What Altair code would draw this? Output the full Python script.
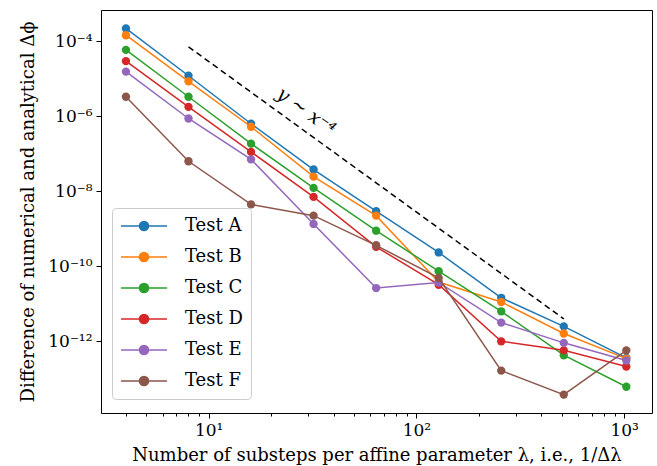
import altair as alt
import pandas as pd

# ---- data ----
x_vals = [4, 8, 16, 32, 64, 128, 256, 512, 1024]
tests = ["Test A", "Test B", "Test C", "Test D", "Test E", "Test F"]
colors = ["#1f77b4", "#ff7f0e", "#2ca02c", "#d62728", "#9467bd", "#8c564b"]

# log10 of the difference, per test
logy_A = [-3.66, -4.92, -6.20, -7.42, -8.53, -9.63, -10.84, -11.60, -12.44]
logy_B = [-3.84, -5.07, -6.28, -7.61, -8.65, -10.42, -10.95, -11.79, -12.46]
logy_C = [-4.23, -5.48, -6.73, -7.91, -9.05, -10.13, -11.20, -12.37, -13.21]
logy_D = [-4.53, -5.75, -6.95, -8.15, -9.48, -10.49, -12.00, -12.24, -12.67]
logy_E = [-4.81, -6.06, -7.15, -8.87, -10.58, -10.43, -11.50, -12.04, -12.51]
logy_F = [-5.48, -7.20, -8.35, -8.65, -9.44, -10.31, -12.78, -13.42, -12.24]
series = [logy_A, logy_B, logy_C, logy_D, logy_E, logy_F]

# reference slope line y ~ x^-4
ref_x = [8, 512]
ref_logy = [-4.15, -11.40]

# annotation
ann_text = "y ∼ x⁻⁴"
ann_x = [29.5]
ann_logy = [-5.87]

x_major = [10, 100, 1000]
x_minor = [4, 5, 6, 7, 8, 9, 20, 30, 40, 50, 60, 70, 80, 90,
           200, 300, 400, 500, 600, 700, 800, 900]
y_exps = [-4, -6, -8, -10, -12]
x_domain_log = [0.482, 3.134]
y_domain_log = [-13.91, -3.168]

SUP = {"-": "⁻", "0": "⁰", "1": "¹", "2": "²", "3": "³", "4": "⁴",
       "5": "⁵", "6": "⁶", "7": "⁷", "8": "⁸", "9": "⁹"}


def sup(n):
    return "".join(SUP[c] for c in str(n))


rows = []
for t, ly in zip(tests, series):
    for xv, v in zip(x_vals, ly):
        rows.append({"x": xv, "y": 10 ** v, "test": t})
df = pd.DataFrame(rows)

ref_df = pd.DataFrame({"x": ref_x, "y": [10 ** v for v in ref_logy]})
ann_df = pd.DataFrame({"x": ann_x, "y": [10 ** v for v in ann_logy], "t": [ann_text]})

FONT = "DejaVu Serif"

x_vals_all = sorted(x_major + x_minor)
x_label_expr = " : ".join(
    f"datum.value == {m} ? '10{sup(i + 1)}'" for i, m in enumerate(x_major)
) + " : ''"
y_label_expr = " : ".join(
    f"abs(log(datum.value)/LN10 - ({e})) < 0.01 ? '10{sup(e)}'" for e in y_exps
) + " : ''"
major_test = " || ".join(f"datum.value == {m}" for m in x_major)

x_scale = alt.Scale(type="log", domain=[10 ** x_domain_log[0], 10 ** x_domain_log[1]], nice=False)
y_scale = alt.Scale(type="log", domain=[10 ** y_domain_log[0], 10 ** y_domain_log[1]], nice=False)

x_enc = alt.X("x:Q", scale=x_scale, axis=alt.Axis(
    values=x_vals_all, labelExpr=x_label_expr,
    title="Number of substeps per affine parameter λ, i.e., 1/Δλ",
    tickSize={"condition": {"test": major_test, "value": 5}, "value": 3},
    grid=False, domain=False, labelPadding=4, titlePadding=8,
))
y_enc = alt.Y("y:Q", scale=y_scale, axis=alt.Axis(
    values=[10.0 ** e for e in y_exps], labelExpr=y_label_expr,
    title="Difference of numerical and analytical Δϕ",
    tickSize=5, grid=False, domain=False, labelPadding=4, titlePadding=10,
))

color_scale = alt.Scale(domain=tests, range=colors)
sym_path = ("M-1,0L1,0M-0.2,0A0.2,0.2,0,1,1,0.2,0"
            "A0.2,0.2,0,1,1,-0.2,0Z")
legend = alt.Legend(
    title=None, orient="none", legendX=11, legendY=198,
    symbolType=sym_path, symbolSize=2116, symbolStrokeWidth=1.5,
    labelFont=FONT, labelFontSize=18, labelColor="black", labelOffset=17,
    clipHeight=20, rowPadding=11, padding=8,
    strokeColor="#cccccc", fillColor="rgba(255,255,255,0.8)", cornerRadius=4,
)

layers = []
for t in tests:
    sub = alt.Chart(df).transform_filter(alt.datum.test == t)
    line = sub.mark_line(strokeWidth=1.5).encode(
        x=x_enc, y=y_enc,
        stroke=alt.Stroke("test:N", scale=color_scale, legend=legend),
    )
    pts = sub.mark_point(filled=True, size=70, opacity=1).encode(
        x=x_enc, y=y_enc,
        fill=alt.Fill("test:N", scale=color_scale, legend=legend),
    )
    layers += [line, pts]

ref_line = alt.Chart(ref_df).mark_line(
    color="black", strokeDash=[6, 4], strokeWidth=1.5
).encode(x=x_enc, y=y_enc)

ann = alt.Chart(ann_df).mark_text(
    font=FONT, fontSize=19, fontStyle="italic", angle=36,
    align="center", baseline="middle", color="black",
).encode(x=x_enc, y=y_enc, text="t:N")

chart = alt.layer(ref_line, *layers, ann).properties(
    width=551, height=403,
    padding={"left": 101, "top": 10, "right": 5, "bottom": 53},
    autosize="none",
).configure_view(
    stroke="black", strokeWidth=1
).configure_axis(
    labelFont=FONT, labelFontSize=17, labelColor="black",
    titleFont=FONT, titleFontSize=18, titleFontWeight="normal", titleColor="black",
    tickColor="black", tickWidth=1,
)

chart.save("out.html", embed_options={"renderer": "svg", "actions": False})
